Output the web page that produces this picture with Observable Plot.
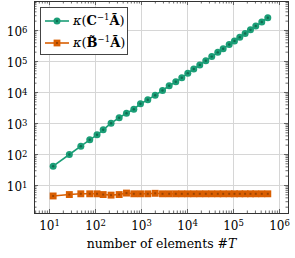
<!DOCTYPE html>
<html><head><meta charset="utf-8">
<script src="https://cdn.jsdelivr.net/npm/d3@7"></script>
<script src="https://cdn.jsdelivr.net/npm/@observablehq/plot@0.6"></script>
<style>
body{margin:0;background:#fff;}
#wrap{position:relative;width:295px;height:258px;font-family:"DejaVu Serif",serif;}
#legend{position:absolute;left:40px;top:7px;width:88px;height:48px;border:1px solid #444;background:#fff;box-sizing:border-box;}
.row{position:absolute;left:4px;height:14px;display:flex;align-items:center;font-size:13px;line-height:14px;white-space:nowrap;}
.row svg{margin-right:4px;}
.row i{font-style:italic;}
.row sup{font-size:8.5px;vertical-align:5px;line-height:0;}
</style></head>
<body><div id="wrap"></div>
<script>
// ---- data ----
const elements = [12, 27, 48, 75, 108, 147, 218, 327, 472, 681, 951, 1371, 1985, 2864, 4000, 5570, 7520, 10160, 13700, 18500, 25000, 33700, 45600, 59700, 80700, 105000, 137000, 179000, 234000, 305000, 412000, 557000];
const kappaC = [42, 100, 185, 298, 432, 626, 1023, 1528, 2150, 2890, 4320, 5820, 8190, 11600, 16500, 22100, 29800, 42000, 57300, 77600, 106000, 144000, 197000, 259000, 353000, 462000, 609000, 800000, 1050000, 1390000, 1880000, 2570000];
const kappaB = [4.6, 5.1, 5.4, 5.4, 5.4, 5.1, 4.9, 5.1, 5.7, 5.4, 5.4, 5.4, 5.6, 5.4, 5.4, 5.4, 5.4, 5.4, 5.4, 5.4, 5.4, 5.4, 5.4, 5.4, 5.4, 5.4, 5.4, 5.4, 5.4, 5.4, 5.4, 5.4];
const majorTicks = [1e1, 1e2, 1e3, 1e4, 1e5, 1e6];
const xLabel = "number of elements #";
const seriesNames = ["<i>κ</i>(<b>C</b><sup>−1</sup><b>Ã</b>)", "<i>κ</i>(<b>B&#x303;</b><sup>−1</sup><b>Ã</b>)"];
const colors = ["#1b9e77", "#d95f02"];
const darkColors = ["#0f6b50", "#9c4300"];

const rows = elements.map((n, i) => ({n, kC: kappaC[i], kB: kappaB[i]}));

const W = 295, H = 258, mL = 34, mR = 7, mT = 1, mB = 45;
const frameH = H - mT - mB;
const frameW = W - mL - mR;
const xDomain = [10 ** 0.674, 10 ** 6.196];
const yDomain = [10 ** 0.097, 10 ** 6.935];
function minors(dom) {
  const out = [];
  for (let k = -1; k <= 7; k++) for (let m = 2; m <= 9; m++) {
    const v = m * 10 ** k;
    if (v > dom[0] && v < dom[1]) out.push(v);
  }
  return out;
}
const minorX = minors(xDomain), minorY = minors(yDomain);
const fmt = d => "10^" + Math.round(Math.log10(d));
const tickColor = "#444";

const chart = Plot.plot({
  width: W, height: H, marginLeft: mL, marginRight: mR, marginTop: mT, marginBottom: mB,
  style: {fontFamily: "'DejaVu Serif', serif", fontSize: "12px", background: "white", color: "#000"},
  x: {type: "log", domain: xDomain, label: null},
  y: {type: "log", domain: yDomain, label: null},
  marks: [
    Plot.gridX({ticks: majorTicks, stroke: "#d6d6d6", strokeOpacity: 1}),
    Plot.gridY({ticks: majorTicks, stroke: "#d6d6d6", strokeOpacity: 1}),
    Plot.tickX(minorX, {x: d => d, insetTop: frameH - 2.5, stroke: tickColor, strokeWidth: 0.8}),
    Plot.tickX(minorX, {x: d => d, insetBottom: frameH - 2.5, stroke: tickColor, strokeWidth: 0.8}),
    Plot.tickX(majorTicks, {x: d => d, insetTop: frameH - 4, stroke: tickColor, strokeWidth: 0.8}),
    Plot.tickX(majorTicks, {x: d => d, insetBottom: frameH - 4, stroke: tickColor, strokeWidth: 0.8}),
    Plot.tickY(minorY, {y: d => d, insetRight: frameW - 2.5, stroke: tickColor, strokeWidth: 0.8}),
    Plot.tickY(minorY, {y: d => d, insetLeft: frameW - 2.5, stroke: tickColor, strokeWidth: 0.8}),
    Plot.tickY(majorTicks, {y: d => d, insetRight: frameW - 4, stroke: tickColor, strokeWidth: 0.8}),
    Plot.tickY(majorTicks, {y: d => d, insetLeft: frameW - 4, stroke: tickColor, strokeWidth: 0.8}),
    Plot.axisX({ticks: majorTicks, tickSize: 0, tickPadding: 8, tickFormat: fmt, label: null}),
    Plot.axisY({ticks: majorTicks, tickSize: 0, tickPadding: 7, tickFormat: fmt, label: null, dy: 2}),
    Plot.text([xLabel], {text: d => d, frameAnchor: "bottom", dy: 34, fontSize: 12.5}),
    Plot.line(rows, {x: "n", y: "kB", stroke: colors[1], strokeWidth: 1.6}),
    Plot.dot(rows, {x: "n", y: "kB", symbol: "square", r: 3.9, fill: colors[1]}),
    Plot.dot(rows, {x: "n", y: "kB", symbol: "square", r: 1.1, fill: darkColors[1]}),
    Plot.line(rows, {x: "n", y: "kC", stroke: colors[0], strokeWidth: 1.6}),
    Plot.dot(rows, {x: "n", y: "kC", r: 3.5, fill: colors[0]}),
    Plot.dot(rows, {x: "n", y: "kC", r: 1.2, fill: darkColors[0]}),
    Plot.frame({stroke: "#333", strokeWidth: 1})
  ]
});

// superscript exponents in tick labels
chart.querySelectorAll('g[aria-label$="tick label"] text').forEach(t => {
  const s = t.textContent;
  if (!s.startsWith("10^")) return;
  const e = s.slice(3);
  t.textContent = "10";
  const ts = document.createElementNS("http://www.w3.org/2000/svg", "tspan");
  ts.setAttribute("dy", "-0.42em");
  ts.setAttribute("font-size", "8.5px");
  ts.textContent = e;
  t.appendChild(ts);
});
// italic T in x label
chart.querySelectorAll('g[aria-label="text"] text').forEach(t => {
  if (t.textContent === xLabel) {
    const ts = document.createElementNS("http://www.w3.org/2000/svg", "tspan");
    ts.setAttribute("font-style", "italic");
    ts.textContent = "T";
    t.appendChild(ts);
  }
});

const wrap = document.getElementById("wrap");
wrap.appendChild(chart);
const legend = document.createElement("div");
legend.id = "legend";
seriesNames.forEach((name, i) => {
  const row = document.createElement("div");
  row.className = "row";
  row.style.top = (6 + i * 22) + "px";
  const sym = i === 0
    ? `<circle cx="12" cy="7" r="3.5" fill="${colors[0]}"/><circle cx="12" cy="7" r="1.2" fill="${darkColors[0]}"/>`
    : `<rect x="8.6" y="3.6" width="6.8" height="6.8" fill="${colors[1]}"/><rect x="11" y="6" width="2" height="2" fill="${darkColors[1]}"/>`;
  row.innerHTML = `<svg width="24" height="14"><line x1="0" y1="7" x2="24" y2="7" stroke="${colors[i]}" stroke-width="1.6"/>${sym}</svg><span>${name}</span>`;
  legend.appendChild(row);
});
wrap.appendChild(legend);
</script>
</body></html>
